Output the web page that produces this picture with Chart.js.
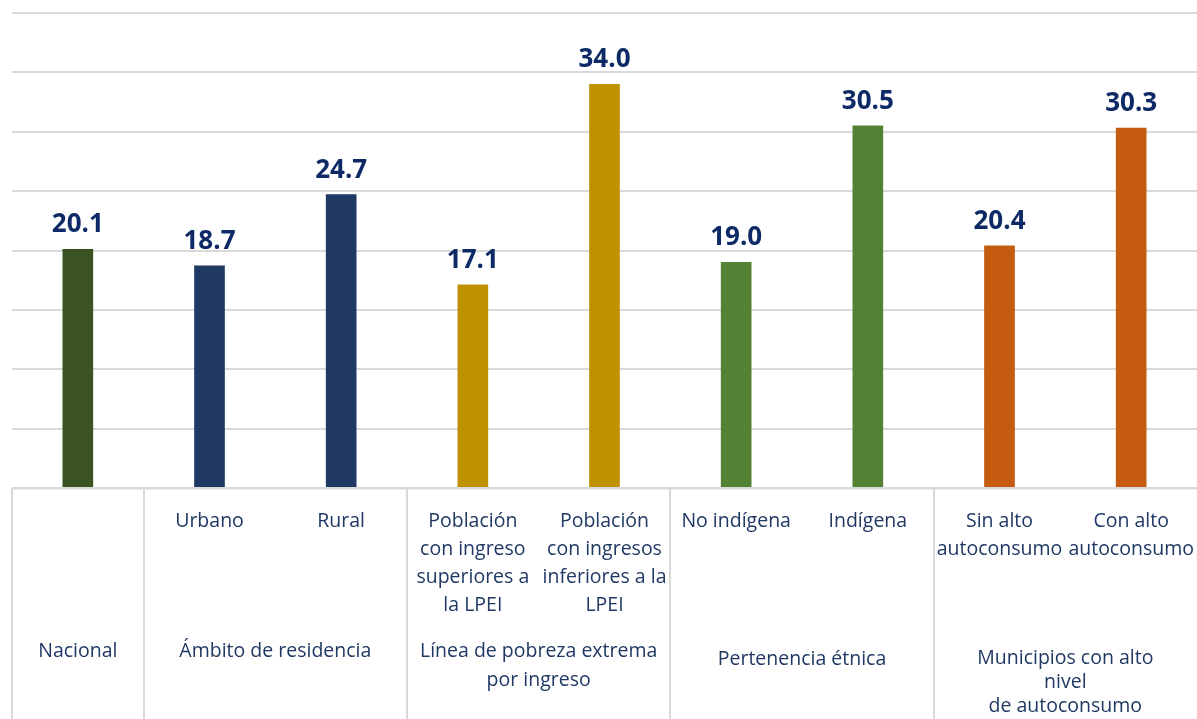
<!DOCTYPE html>
<html>
<head>
<meta charset="utf-8">
<script src="https://cdn.jsdelivr.net/npm/chart.js@4.4.1/dist/chart.umd.min.js"></script>
<style>
  html, body { margin: 0; padding: 0; background: #fff; }
  #wrap { width: 1197px; height: 719px; position: relative; }
</style>
</head>
<body>
<div id="wrap"><canvas id="chart"></canvas></div>
<script>
// Sub-category labels (one per bar)
const categories = [
  '',
  'Urbano',
  'Rural',
  ['Población', 'con ingreso', 'superiores a', 'la LPEI'],
  ['Población', 'con ingresos', 'inferiores a la', 'LPEI'],
  'No indígena',
  'Indígena',
  ['Sin alto', 'autoconsumo'],
  ['Con alto', 'autoconsumo'],
];

// Group labels and how many bars each covers
const groups = [
  'Nacional',
  'Ámbito de residencia',
  ['Línea de pobreza extrema', 'por ingreso'],
  'Pertenencia étnica',
  ['Municipios con alto', 'nivel', 'de autoconsumo'],
];
const groupSpans = [1, 2, 2, 2, 2];

const values = [20.1, 18.7, 24.7, 17.1, 34.0, 19.0, 30.5, 20.4, 30.3];

const barColors = [
  '#3b5323', '#203864', '#203864', '#bf9000', '#bf9000',
  '#548235', '#548235', '#c55a11', '#c55a11',
];

const yTicks = [0, 5, 10, 15, 20, 25, 30, 35, 40];

const LABEL_FONT = '19.5px "Open Sans", "Noto Sans", sans-serif';
const VALUE_FONT = 'bold 26px "Open Sans", "Noto Sans", sans-serif';
const TEXT_COLOR = '#1f3864';
const VALUE_COLOR = '#0d2a66';
const LINE_COLOR = '#d9d9d9';

// value labels above bars
const valueLabels = {
  id: 'valueLabels',
  afterDatasetsDraw(chart) {
    const ctx = chart.ctx;
    const meta = chart.getDatasetMeta(0);
    ctx.save();
    ctx.font = VALUE_FONT;
    ctx.fillStyle = VALUE_COLOR;
    ctx.textAlign = 'center';
    ctx.textBaseline = 'alphabetic';
    meta.data.forEach((bar, i) => {
      ctx.fillText(values[i].toFixed(1), bar.x, bar.y - 17);
    });
    ctx.restore();
  }
};

// two-level category axis with separators
const groupAxis = {
  id: 'groupAxis',
  afterDraw(chart) {
    const ctx = chart.ctx;
    const x = chart.scales.x;
    const area = chart.chartArea;
    const bottom = chart.height;
    const edge = i => {
      if (i <= 0) return area.left;
      if (i >= categories.length) return area.right;
      return (x.getPixelForValue(i - 1) + x.getPixelForValue(i)) / 2;
    };

    ctx.save();
    ctx.font = LABEL_FONT;
    ctx.fillStyle = TEXT_COLOR;
    ctx.textAlign = 'center';
    ctx.textBaseline = 'middle';

    // sub-category labels
    categories.forEach((lab, i) => {
      const lines = Array.isArray(lab) ? lab : [lab];
      const cx = x.getPixelForValue(i);
      lines.forEach((t, k) => ctx.fillText(t, cx, area.bottom + 33 + k * 28));
    });

    // group labels + separators
    const groupTop = [163, 163, 163, 171, 170];
    const groupLine = [28, 28, 29, 28, 24];
    let start = 0;
    ctx.strokeStyle = LINE_COLOR;
    ctx.lineWidth = 2;
    groups.forEach((g, gi) => {
      const end = start + groupSpans[gi];
      const x0 = edge(start), x1 = edge(end);
      ctx.beginPath();
      ctx.moveTo(Math.round(x0), area.bottom);
      ctx.lineTo(Math.round(x0), bottom);
      ctx.stroke();
      const lines = Array.isArray(g) ? g : [g];
      lines.forEach((t, k) =>
        ctx.fillText(t, (x0 + x1) / 2, area.bottom + groupTop[gi] + k * groupLine[gi]));
      start = end;
    });
    ctx.restore();
  }
};

new Chart(document.getElementById('chart'), {
  type: 'bar',
  data: {
    labels: categories,
    datasets: [{
      data: values,
      backgroundColor: barColors,
      barThickness: 30,
    }],
  },
  options: {
    responsive: true,
    maintainAspectRatio: false,
    animation: false,
    layout: { padding: { top: 13, left: 12, right: 0, bottom: 231 } },
    plugins: {
      legend: { display: false },
      tooltip: { enabled: false },
    },
    scales: {
      x: {
        display: false,
      },
      y: {
        min: yTicks[0],
        max: yTicks[yTicks.length - 1],
        afterBuildTicks: axis => { axis.ticks = yTicks.map(v => ({ value: v })); },
        ticks: { display: false },
        grid: {
          color: LINE_COLOR,
          lineWidth: c => (c.tick.value === 0 ? 2.5 : 2),
          drawTicks: false,
        },
        border: { display: false },
      },
    },
  },
  plugins: [valueLabels, groupAxis],
});
</script>
</body>
</html>
